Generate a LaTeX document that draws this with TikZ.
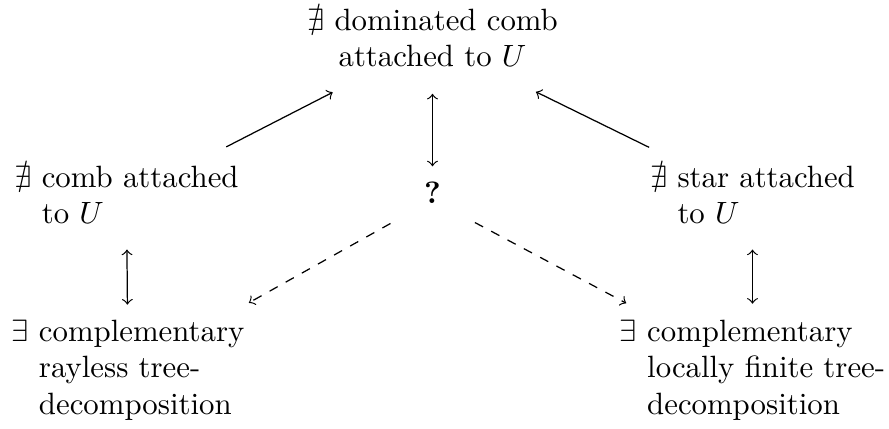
\documentclass[tikz,border=0pt]{standalone}
\usepackage{amssymb}
\begin{document}
\begin{tikzpicture}[x=0.3247pt,y=-0.3247pt,
  lbl/.style={inner sep=0pt,anchor=base},
  conn/.style={line width=0.4pt}]
\useasboundingbox (0,0) rectangle (889,429);
\node[lbl] (T) at (432.5,30) {\begin{tabular}[t]{@{}c@{}}$\nexists$ dominated comb\\ attached to $U$\end{tabular}};
\node[lbl] (L) at (126.5,187) {\begin{tabular}[t]{@{}l@{\ }l@{}}$\nexists$ & comb attached\\ & to $U$\end{tabular}};
\node[lbl] (R) at (752.5,187) {\begin{tabular}[t]{@{}l@{\ }l@{}}$\nexists$ & star attached\\ & to $U$\end{tabular}};
\node[lbl,text height=7pt,text depth=5pt] (Q) at (432.5,203) {\textbf{?}};
\node[lbl] (BL) at (128,341) {\begin{tabular}[t]{@{}l@{\ }l@{}}$\exists$ & complementary\\ & rayless tree-\\ & decomposition\end{tabular}};
\node[lbl] (BR) at (752.5,341) {\begin{tabular}[t]{@{}l@{\ }l@{}}$\exists$ & complementary\\ & locally finite tree-\\ & decomposition\end{tabular}};
\draw[conn,<->,shorten <=4.9pt,shorten >=4.7pt] (T) -- (Q);
\draw[conn,<->,shorten <=4.5pt,shorten >=3.2pt] (L) -- (BL);
\draw[conn,<->,shorten <=4.5pt,shorten >=3.5pt] (R) -- (BR);
\draw[conn,->,shorten <=9.7pt,shorten >=9.7pt] (L) -- (T);
\draw[conn,->,shorten <=9.7pt,shorten >=9.7pt] (R) -- (T);
\draw[conn,->,dashed,shorten <=12.3pt,shorten >=7.8pt] (Q) -- (BL);
\draw[conn,->,dashed,shorten <=12.3pt,shorten >=7.8pt] (Q) -- (BR);
\end{tikzpicture}
\end{document}
